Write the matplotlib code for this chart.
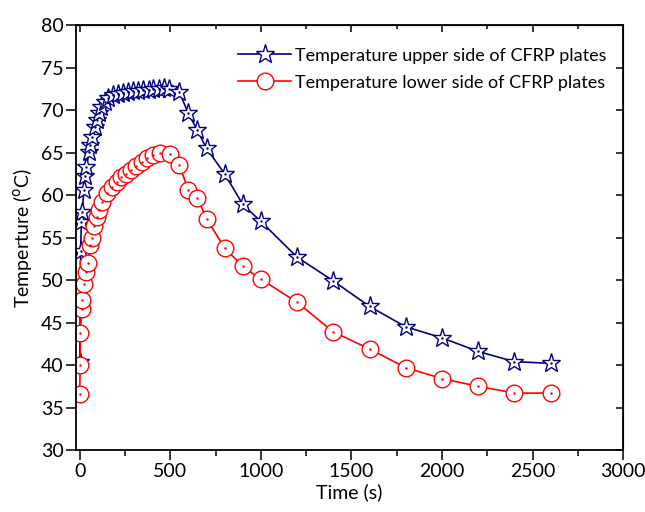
import matplotlib
matplotlib.use("Agg")
import matplotlib.pyplot as plt
from matplotlib.ticker import MultipleLocator

plt.rcParams["font.family"] = ["Lato", "DejaVu Sans"]

# Datos: tiempo (s) y temperatura (C)
t_sup = [0, 5, 9, 15, 22, 30, 37, 52, 59, 70, 85, 96, 107, 120, 139, 157, 185,
         213, 241, 269, 296, 324, 352, 380, 407, 435, 463, 491,
         550, 600, 650, 700, 800, 900, 1000, 1200, 1400, 1600, 1800, 2000,
         2200, 2400, 2600]
temp_sup = [40.4, 53.4, 56.8, 58.0, 60.6, 62.3, 63.3, 65.1, 65.9, 66.8, 68.0,
            68.8, 69.6, 70.4, 71.0, 71.4, 71.8,
            71.9, 72.0, 72.1, 72.2, 72.3, 72.4, 72.4, 72.5, 72.5, 72.6, 72.5,
            72.1, 69.6, 67.6, 65.5, 62.5, 58.9, 56.9, 52.7, 49.9, 46.9, 44.5,
            43.2, 41.6, 40.4, 40.2]

t_inf = [0, 2, 4, 10, 14, 22, 33, 44, 59, 69, 81, 93, 106, 124, 148, 178, 204,
         228, 256, 281, 311, 343, 374, 407, 444, 497,
         550, 600, 650, 700, 800, 900, 1000, 1200, 1400, 1600, 1800, 2000,
         2200, 2400, 2600]
temp_inf = [36.6, 40.0, 43.8, 46.6, 47.6, 49.5, 50.9, 52.0, 54.1, 55.0, 56.4,
            57.4, 58.2, 59.2, 60.2, 60.9, 61.5, 62.1, 62.5, 63.0, 63.4, 63.9,
            64.4, 64.7, 64.9, 64.8,
            63.5, 60.6, 59.7, 57.2, 53.8, 51.6, 50.1, 47.4, 43.9, 41.9, 39.7,
            38.4, 37.5, 36.7, 36.7]

fig = plt.figure(figsize=(6.45, 5.12), dpi=100)
ax = fig.add_axes([0.118, 0.121, 0.848, 0.830])

azul = "#000080"
rojo = "#ff0000"

ax.plot(t_sup, temp_sup, color=azul, lw=1.2, marker="*", markersize=14,
        markerfacecolor="white", markeredgecolor=azul, markeredgewidth=1.0,
        label="Temperature upper side of CFRP plates")
ax.plot(t_sup, temp_sup, ls="none", marker=".", markersize=1.5, color=azul)
ax.plot(t_inf, temp_inf, color=rojo, lw=1.2, marker="o", markersize=12,
        markerfacecolor="white", markeredgecolor=rojo, markeredgewidth=1.0,
        label="Temperature lower side of CFRP plates")
ax.plot(t_inf, temp_inf, ls="none", marker=".", markersize=1.5, color=rojo)

ax.set_xlim(-20, 3000)
ax.set_ylim(30, 80)
ax.xaxis.set_major_locator(MultipleLocator(500))
ax.xaxis.set_minor_locator(MultipleLocator(250))
ax.yaxis.set_major_locator(MultipleLocator(5))

ax.tick_params(axis="both", which="major", direction="out", length=7,
               width=1.1, labelsize=14, pad=2)
ax.tick_params(axis="both", which="minor", direction="out", length=4, width=1.1)
for s in ax.spines.values():
    s.set_linewidth(1.3)

# Ejes espejo arriba y a la derecha con marcas hacia dentro
sec_x = ax.secondary_xaxis("top")
sec_x.xaxis.set_major_locator(MultipleLocator(500))
sec_x.xaxis.set_minor_locator(MultipleLocator(250))
sec_x.tick_params(which="both", direction="in", labeltop=False)
sec_x.tick_params(which="major", length=5, width=1.1)
sec_x.tick_params(which="minor", length=3, width=1.1)
sec_y = ax.secondary_yaxis("right")
sec_y.yaxis.set_major_locator(MultipleLocator(5))
sec_y.tick_params(which="both", direction="in", labelright=False, length=5,
                  width=1.1)

ax.set_xlabel("Time (s)", fontsize=14, labelpad=3)
ax.set_ylabel("Temperture ($^{\\rm o}$C)", fontsize=14, labelpad=5)

ax.legend(loc="upper right", bbox_to_anchor=(1.0, 0.985), frameon=False,
          fontsize=13, handlelength=2.9, handletextpad=0.25, labelspacing=0.6,
          markerscale=1.0)

plt.savefig("out.png", dpi=100)
